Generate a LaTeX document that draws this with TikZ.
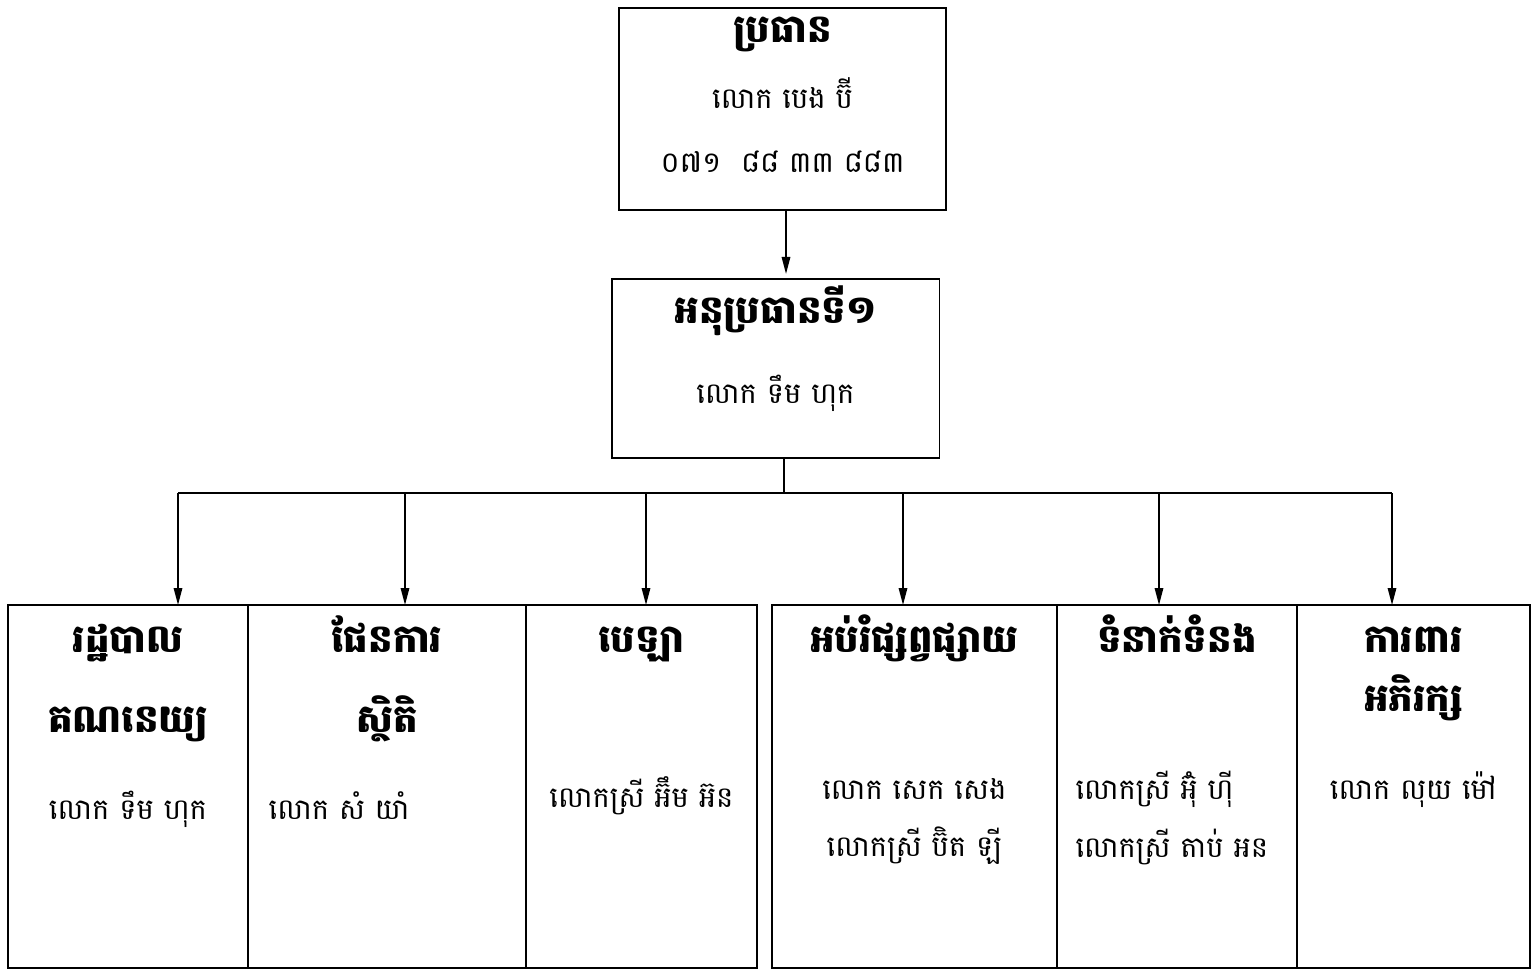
\documentclass[tikz,border=0pt]{standalone}
\usepackage{fontspec}
\newfontfamily\khmer[Script=Khmer]{Battambang}
\usetikzlibrary{positioning}
\usetikzlibrary{arrows.meta}

\begin{document}
\begin{tikzpicture}[x=0.02cm, y=-0.02cm, thick,
    box/.style = {draw, line width=1.1pt, outer sep=0pt, inner sep=0pt},
    unit/.style = {box, minimum height=7.26cm},
    headtext/.style = {font=\khmer\bfseries\fontsize{22}{26}\selectfont, anchor=base, inner sep=0pt},
    persontext/.style = {font=\khmer\fontsize{16.5}{20}\selectfont, anchor=base, inner sep=0pt},
    arr/.style = {line width=0.9pt, -{Triangle[length=0.34cm, width=0.17cm]}}]
            \useasboundingbox (0,0) rectangle (1531,970);
            % Top boxes
            \node[box, minimum width=6.54cm, minimum height=4.04cm] (chair) at (782.5,109) {};
            \node[box, minimum width=6.56cm, minimum height=3.58cm] (vice) [below=1.38cm of chair, xshift=-0.14cm] {};
            % Bottom boxes
            \node[unit, minimum width=4.8cm, anchor=north west] (adm) at (8,605) {};
            \node[unit, minimum width=5.56cm] (plan) [right=0pt of adm] {};
            \node[unit, minimum width=4.62cm] (cash) [right=0pt of plan] {};
            \node[unit, minimum width=5.7cm] (edu) [right=0.3cm of cash] {};
            \node[unit, minimum width=4.8cm] (rel) [right=0pt of edu] {};
            \node[unit, minimum width=4.66cm] (prot) [right=0pt of rel] {};
            % Texts
            \node[headtext] (chair1) at ([yshift=-0.68cm]chair.north) {ប្រធាន};
            \node[persontext] (chair2) at ([yshift=-2.0cm]chair.north) {លោក បេង ប៊ី};
            \node[persontext] (chair3) at ([yshift=-3.3cm]chair.north) {០៧១\ \ ៨៨ ៣៣ ៨៨៣};
            \node[headtext] (vice1) at ([yshift=-0.9cm]vice.north) {អនុប្រធានទី១};
            \node[persontext] (vice2) at ([yshift=-2.5cm]vice.north) {លោក ទឹម ហុក};
            \node[headtext] (adm1) at ([yshift=-0.94cm]adm.north) {រដ្ឋបាល};
            \node[headtext] (adm2) at ([yshift=-2.55cm]adm.north) {គណនេយ្យ};
            \node[persontext] (adm3) at ([yshift=-4.3cm]adm.north) {លោក ទឹម ហុក};
            \node[headtext] (plan1) at ([yshift=-0.94cm]plan.north) {ផែនការ};
            \node[headtext] (plan2) at ([yshift=-2.55cm]plan.north) {ស្ថិតិ};
            \node[persontext, anchor=base west] (plan3) at ([xshift=0.4cm, yshift=-4.3cm]plan.north west) {លោក សំ យាំ};
            \node[headtext] (cash1) at ([yshift=-0.94cm]cash.north) {បេឡា};
            \node[persontext] (cash2) at ([yshift=-4.06cm]cash.north) {លោកស្រី អ៊ឹម អ៊ន};
            \node[headtext] (edu1) at ([yshift=-0.94cm]edu.north) {អប់រំផ្សព្វផ្សាយ};
            \node[persontext] (edu2) at ([yshift=-3.9cm]edu.north) {លោក សេក សេង};
            \node[persontext] (edu3) at ([yshift=-5.04cm]edu.north) {លោកស្រី ប៊ិត ឡី};
            \node[headtext] (rel1) at ([yshift=-0.94cm]rel.north) {ទំនាក់ទំនង};
            \node[persontext, anchor=base west] (rel2) at ([xshift=0.36cm, yshift=-3.9cm]rel.north west) {លោកស្រី អ៊ុំ ហ៊ី};
            \node[persontext, anchor=base west] (rel3) at ([xshift=0.36cm, yshift=-5.06cm]rel.north west) {លោកស្រី តាប់ អន};
            \node[headtext] (prot1) at ([yshift=-0.94cm]prot.north) {ការពារ};
            \node[headtext] (prot2) at ([yshift=-2.14cm]prot.north) {អភិរក្ស};
            \node[persontext] (prot3) at ([yshift=-3.9cm]prot.north) {លោក លុយ ម៉ៅ};
            % Bus points
            \coordinate (hub) at (784,493);
            \coordinate (t1) at (178,493);
            \coordinate (t2) at (405,493);
            \coordinate (t3) at (646,493);
            \coordinate (t4) at (903,493);
            \coordinate (t5) at (1159,493);
            \coordinate (t6) at (1392,493);
            % Edges
            \draw[arr] ([xshift=0.07cm]chair.south) -- ([xshift=0.07cm, yshift=0.1cm]chair.south |- vice.north);
            \draw[line width=0.9pt] (vice.south -| hub) -- (hub);
            \draw[line width=1.1pt] (t1) -- (t6);
            \draw[arr] (t1) -- (t1 |- adm.north);
            \draw[arr] (t2) -- (t2 |- plan.north);
            \draw[arr] (t3) -- (t3 |- cash.north);
            \draw[arr] (t4) -- (t4 |- edu.north);
            \draw[arr] (t5) -- (t5 |- rel.north);
            \draw[arr] (t6) -- (t6 |- prot.north);
\end{tikzpicture}
\end{document}
